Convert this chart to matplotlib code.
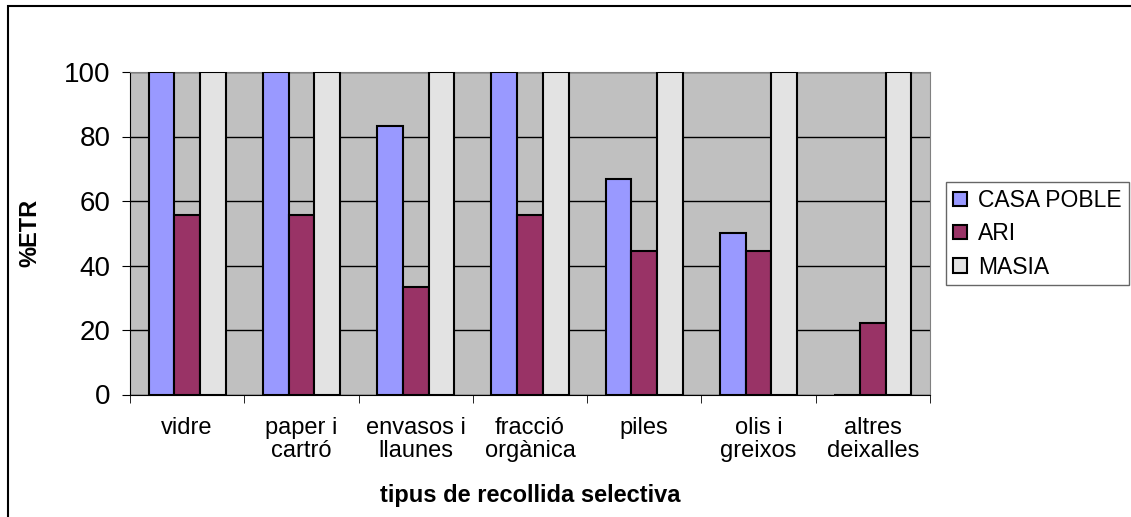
import matplotlib.pyplot as plt
from matplotlib.patches import Rectangle
import numpy as np

plt.rcParams["font.family"] = ["Liberation Sans", "DejaVu Sans"]

categories = ["vidre", "paper i\ncartró", "envasos i\nllaunes", "fracció\norgànica",
              "piles", "olis i\ngreixos", "altres\ndeixalles"]
casa_poble = [100, 100, 83.3, 100, 66.7, 50, 0]
ari = [55.6, 55.6, 33.3, 55.6, 44.4, 44.4, 22.2]
masia = [100, 100, 100, 100, 100, 100, 100]

series = [("CASA POBLE", casa_poble, "#9999FF"),
          ("ARI", ari, "#993366"),
          ("MASIA", masia, "#E3E3E3")]

fig = plt.figure(figsize=(11.31, 5.17), dpi=100)
ax = fig.add_axes([130 / 1131, 1 - 394.5 / 517, 800 / 1131, 322.5 / 517])
ax.set_facecolor("#C0C0C0")

x = np.arange(len(categories))
w = 0.225
for i, (name, vals, col) in enumerate(series):
    ax.bar(x + (i - 1) * w, vals, w, color=col, edgecolor="black",
           linewidth=1.5, label=name, zorder=3)

ax.set_xlim(-0.5, len(categories) - 0.5)
ax.set_ylim(0, 100)
ax.set_yticks([0, 20, 40, 60, 80, 100])
ax.yaxis.grid(True, color="black", linewidth=1, zorder=1)
ax.set_axisbelow(True)
ax.tick_params(axis="y", labelsize=20, length=6, direction="out", pad=8)

ax.set_xticks(x)
ax.set_xticklabels(categories, fontsize=17, linespacing=1.1)
ax.set_xticks(np.arange(len(categories) + 1) - 0.5, minor=True)
ax.tick_params(axis="x", which="major", length=0, pad=16)
ax.tick_params(axis="x", which="minor", length=6, direction="out")

for s in ["top", "right"]:
    ax.spines[s].set_color("#808080")
ax.spines["left"].set_color("black")
ax.spines["bottom"].set_color("black")

ax.set_ylabel("%ETR", fontsize=17, fontweight="bold")
ax.yaxis.set_label_coords(41 / 1131, 1 - 233 / 517, transform=fig.transFigure)
ax.set_xlabel("tipus de recollida selectiva", fontsize=17, fontweight="bold")
ax.xaxis.set_label_coords(530 / 1131, 1 - 484 / 517, transform=fig.transFigure)

leg = ax.legend(loc="upper left", bbox_to_anchor=(946 / 1131, 1 - 182 / 517),
                bbox_transform=fig.transFigure, fontsize=16.5, frameon=True,
                fancybox=False, edgecolor="#404040", handlelength=0.6,
                handleheight=0.6, handletextpad=0.5, labelspacing=0.45,
                borderpad=0.3, borderaxespad=0)
leg.get_frame().set_linewidth(1)

fig.patches.append(Rectangle((8 / 1131, -0.1), 1.2, 1 - 6 / 517 + 0.1,
                             transform=fig.transFigure, fill=False,
                             edgecolor="black", linewidth=1.5))

fig.savefig("out.png", dpi=100)
